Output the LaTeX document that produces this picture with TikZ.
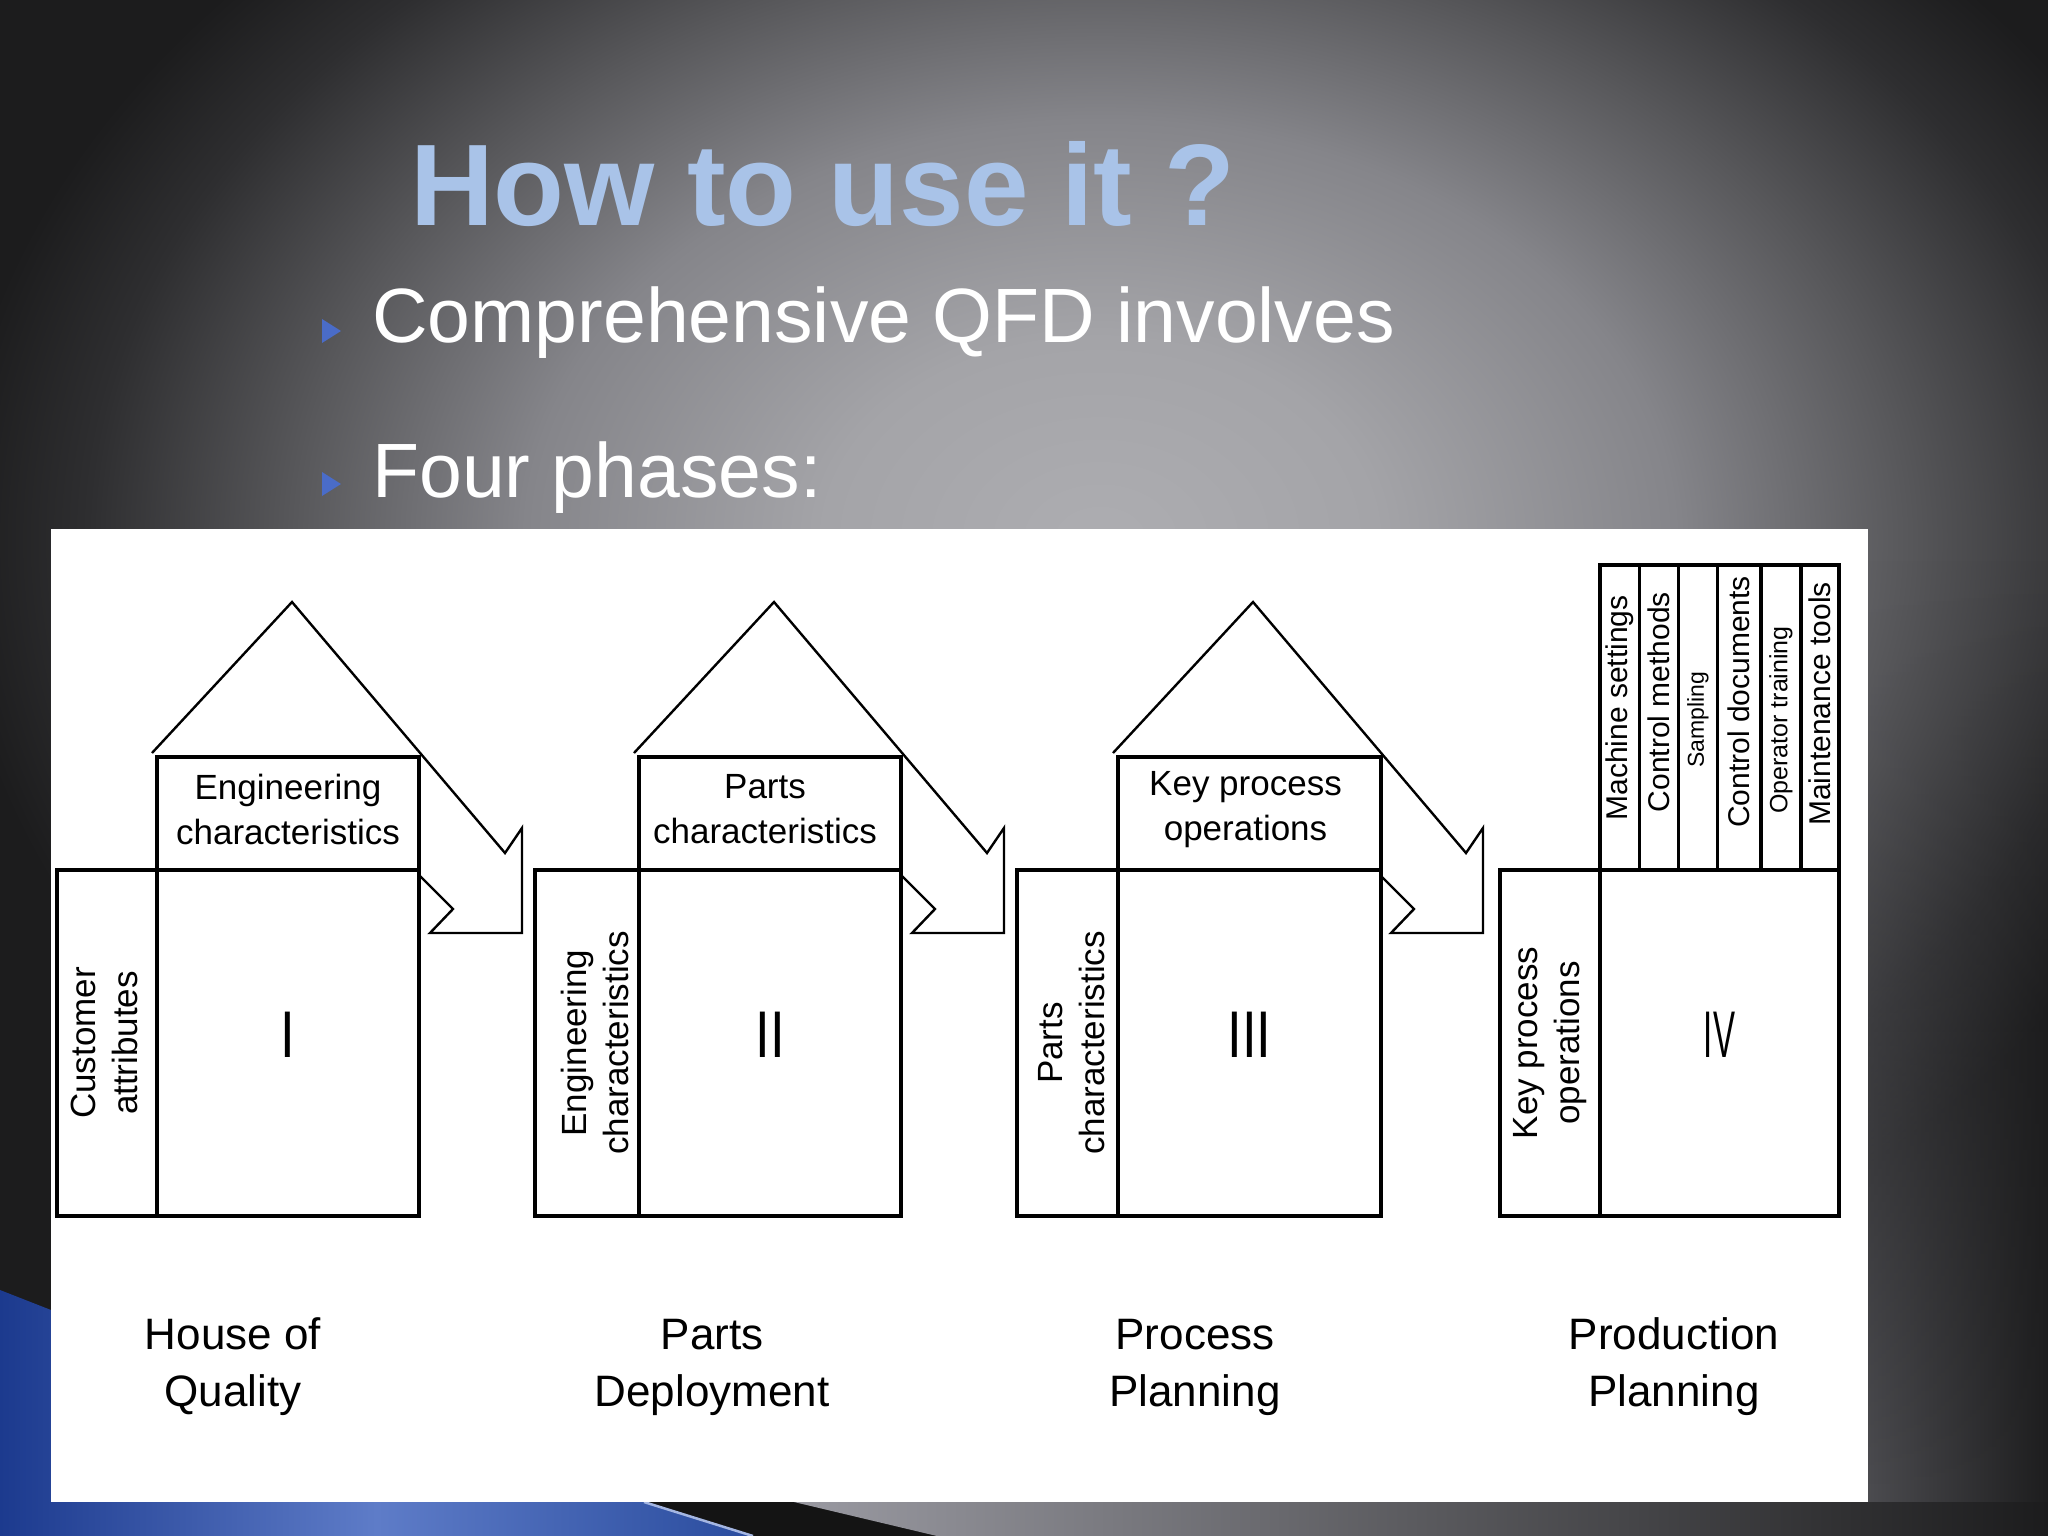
\documentclass[tikz,border=0pt]{standalone}
\usepackage{fontspec}
\setmainfont{Liberation Sans}
\usetikzlibrary{fadings}
\definecolor{bga}{HTML}{ADADB1}
\definecolor{bgb}{HTML}{A4A4A8}
\definecolor{bgc}{HTML}{85858A}
\definecolor{bgd}{HTML}{58585B}
\definecolor{bge}{HTML}{2E2E30}
\definecolor{bgf}{HTML}{1C1C1D}
\definecolor{titleblue}{HTML}{A9C3E8}
\definecolor{bulletblue}{HTML}{4A6CC8}
\definecolor{bluedark}{HTML}{1C3A8E}
\definecolor{bluemid}{HTML}{5E7CC8}
\definecolor{blueedge}{HTML}{2A4C9E}
\definecolor{bluehi}{HTML}{A4B6E2}
\definecolor{stripgray}{HTML}{9A9AA2}
\definecolor{stripmid}{HTML}{5A5A5E}
\definecolor{stripdark}{HTML}{1C1C1D}
\definecolor{sidelight}{HTML}{4C4C50}
\definecolor{sidedark}{HTML}{1E1E1F}
\pgfdeclareradialshading{slidebg}{\pgfpoint{0bp}{0bp}}{color(0bp)=(bga); color(6bp)=(bgb); color(12.5bp)=(bgc); color(17.5bp)=(bgd); color(22bp)=(bge); color(25bp)=(bgf); color(50bp)=(bgf)}

\newcommand\qfdhouse[5]{%
  \node[box, anchor=north east, minimum width=#3, minimum height=346] (#1left) at (#2,870) {};
  \node[box, anchor=north west, minimum width=#4, minimum height=346] (#1main) at (#2,870) {};
  \node[numlbl, yshift=8pt] (#1num) at (#1main.center) {#5};
}
\newcommand\qfdroof[1]{%
  \draw[roofline] ({#1-5},753) -- ({#1+135},602) -- ({#1+348},853) -- ({#1+365},828)
     -- ({#1+365},933) -- ({#1+273},933) -- ({#1+296},909) -- ({#1+262},875);
}

\begin{document}
\begin{tikzpicture}[x=1pt,y=-1pt,
  box/.style={draw=black, line width=3.6pt, inner sep=0pt, outer sep=0pt, fill=white},
  roofline/.style={draw=black, line width=2.4pt},
  inlbl/.style={font=\fontsize{35}{45}\selectfont, align=center, inner sep=0pt, text=black},
  sidelbl/.style={font=\fontsize{35}{42}\selectfont, align=center, inner sep=0pt, rotate=90},
  numlbl/.style={font=\fontsize{66}{70}\selectfont, inner sep=0pt},
  phaselbl/.style={font=\fontsize{44}{57}\selectfont, align=center, inner sep=0pt},
  collbl/.style={font=\fontsize{30}{32}\selectfont, rotate=90, inner sep=0pt},
  titletext/.style={font=\fontsize{116}{124}\selectfont\bfseries, inner sep=0pt, text=titleblue},
  bullettext/.style={font=\fontsize{77}{80}\selectfont, inner sep=0pt, text=white},
]
\useasboundingbox (0,0) rectangle (2048,1536);
\clip (0,0) rectangle (2048,1536);
% background
\fill[bgf] (0,0) rectangle (2048,1536);
\shade[shading=slidebg] (1100,540) ellipse [x radius=1150, y radius=840];
\shade[left color=sidelight, right color=sidedark, path fading=north] (1868,560) rectangle (2048,1502);
% bottom decoration
\shade[left color=bluedark, right color=blueedge, middle color=bluemid]
  (0,1290) -- (51,1310) -- (51,1502) -- (644,1502) -- (753,1536) -- (0,1536) -- cycle;
\fill[black!92] (644,1502) -- (794,1502) -- (937,1536) -- (753,1536) -- cycle;
\draw[bluehi, line width=2.5pt] (644,1502) -- (753,1536);
\shade[left color=stripgray, right color=stripdark, middle color=stripmid]
  (794,1502) -- (2048,1502) -- (2048,1536) -- (937,1536) -- cycle;
% white panel
\fill[white] (51,529) rectangle (1868,1502);

% title and bullets
\node[titletext, anchor=base west] (title) at (410,225) {How to use it ?};
\fill[bulletblue] (322,319) -- (341,331) -- (322,343) -- cycle;
\node[bullettext, anchor=base west] (bullet1) at (372,342) {Comprehensive QFD involves};
\fill[bulletblue] (322,472) -- (341,484) -- (322,496) -- cycle;
\node[bullettext, anchor=base west] (bullet2) at (372,497) {Four phases:};

% house I
\qfdroof{157}
\qfdhouse{h1}{157}{100}{262}{\scalebox{0.8}[1]{I}}
\node[box, anchor=south west, minimum width=262, minimum height=113] (h1top) at (157,870) {};
\node[inlbl, yshift=4pt] (h1toptxt) at (h1top.center) {Engineering\\characteristics};
\node[sidelbl, yshift=3pt] (h1lefttxt) at (h1left.center) {Customer\\attributes};

% house II
\qfdroof{639}
\qfdhouse{h2}{639}{104}{262}{\scalebox{0.8}[1]{II}}
\node[box, anchor=south west, minimum width=262, minimum height=113] (h2top) at (639,870) {};
\node[inlbl, yshift=4pt, xshift=-5pt] (h2toptxt) at (h2top.center) {Parts\\characteristics};
\node[sidelbl, yshift=-8pt] (h2lefttxt) at (h2left.center) {Engineering\\characteristics};

% house III
\qfdroof{1118}
\qfdhouse{h3}{1118}{101}{263}{\scalebox{0.8}[1]{III}}
\node[box, anchor=south west, minimum width=263, minimum height=113] (h3top) at (1118,870) {};
\node[inlbl, yshift=4pt, xshift=-4pt] (h3toptxt) at (h3top.center) {Key process\\operations};
\node[sidelbl, yshift=-4pt] (h3lefttxt) at (h3left.center) {Parts\\characteristics};

% house IV
\qfdhouse{h4}{1600}{100}{239}{\scalebox{0.5}[1]{IV}}
\node[sidelbl] (h4lefttxt) at (h4left.center) {Key process\\operations};
\node[box, anchor=south west, minimum width=39.3, minimum height=305] (c1) at (1600,870) {};
\node[box, anchor=south west, minimum width=39, minimum height=305] (c2) at (1639.3,870) {};
\node[box, anchor=south west, minimum width=39, minimum height=305] (c3) at (1678.3,870) {};
\node[box, anchor=south west, minimum width=43.7, minimum height=305] (c4) at (1717.3,870) {};
\node[box, anchor=south west, minimum width=39.7, minimum height=305] (c5) at (1761,870) {};
\node[box, anchor=south west, minimum width=38.3, minimum height=305] (c6) at (1800.7,870) {};
\node[collbl] (c1txt) at (1619.7,708) {Machine settings};
\node[collbl] (c2txt) at (1658.8,702) {Control methods};
\node[collbl, font=\fontsize{23}{25}\selectfont] (c3txt) at (1697.8,720) {Sampling};
\node[collbl] (c4txt) at (1739.2,702) {Control documents};
\node[collbl, font=\fontsize{25}{27}\selectfont] (c5txt) at (1780.9,720) {Operator training};
\node[collbl] (c6txt) at (1820,704) {Maintenance tools};

% phase labels
\node[phaselbl] (p1) at (233,1367) {House of\\Quality};
\node[phaselbl] (p2) at (712,1367) {Parts\\Deployment};
\node[phaselbl] (p3) at (1195,1367) {Process\\Planning};
\node[phaselbl] (p4) at (1674,1367) {Production\\Planning};
\end{tikzpicture}
\end{document}
